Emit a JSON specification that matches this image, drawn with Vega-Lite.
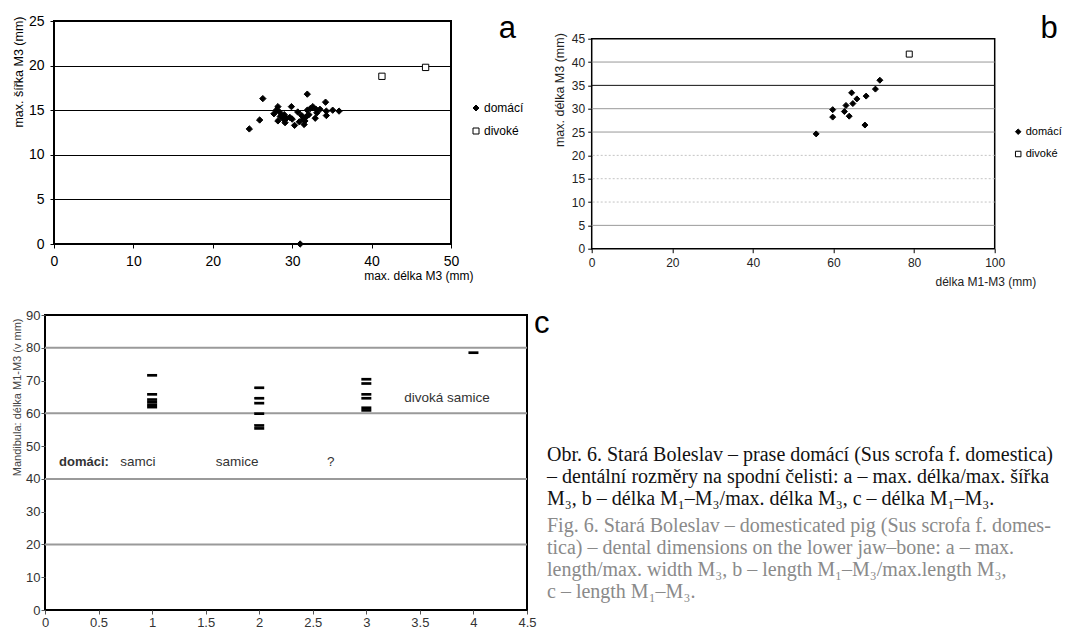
{
  "$schema": "https://vega.github.io/schema/vega-lite/v6.json",
  "padding": {"left": 9, "top": 11, "right": 0, "bottom": 0},
  "background": "white",
  "bounds": "flush",
  "spacing": 294,
  "resolve": {"scale": {"shape": "independent", "fill": "independent", "stroke": "independent"}},
  "config": {
    "view": {"stroke": null},
    "font": "Liberation Sans",
    "axis": {
      "labelFont": "Liberation Sans",
      "titleFont": "Liberation Sans",
      "labelColor": "#000",
      "titleColor": "#000",
      "titleFontWeight": "normal",
      "tickColor": "#000",
      "domain": false,
      "labelFlush": false,
      "labelOverlap": false,
      "tickSize": 4,
      "grid": false
    },
    "legend": {"labelFont": "Liberation Sans", "titleFont": "Liberation Sans"}
  },
  "datasets": {
    "empty": [],
    "a": [
      {"delka": 24.6, "sirka": 12.9, "typ": "domácí"},
      {"delka": 25.9, "sirka": 13.9, "typ": "domácí"},
      {"delka": 26.3, "sirka": 16.3, "typ": "domácí"},
      {"delka": 27.7, "sirka": 14.6, "typ": "domácí"},
      {"delka": 28.0, "sirka": 15.0, "typ": "domácí"},
      {"delka": 28.2, "sirka": 15.4, "typ": "domácí"},
      {"delka": 28.2, "sirka": 13.8, "typ": "domácí"},
      {"delka": 28.4, "sirka": 14.8, "typ": "domácí"},
      {"delka": 28.5, "sirka": 14.3, "typ": "domácí"},
      {"delka": 28.7, "sirka": 14.4, "typ": "domácí"},
      {"delka": 28.9, "sirka": 14.0, "typ": "domácí"},
      {"delka": 29.0, "sirka": 14.5, "typ": "domácí"},
      {"delka": 29.1, "sirka": 13.6, "typ": "domácí"},
      {"delka": 29.3, "sirka": 14.1, "typ": "domácí"},
      {"delka": 29.7, "sirka": 14.2, "typ": "domácí"},
      {"delka": 29.9, "sirka": 15.4, "typ": "domácí"},
      {"delka": 30.0, "sirka": 14.0, "typ": "domácí"},
      {"delka": 30.3, "sirka": 13.3, "typ": "domácí"},
      {"delka": 30.7, "sirka": 14.8, "typ": "domácí"},
      {"delka": 30.9, "sirka": 13.7, "typ": "domácí"},
      {"delka": 31.2, "sirka": 14.4, "typ": "domácí"},
      {"delka": 31.4, "sirka": 14.0, "typ": "domácí"},
      {"delka": 31.5, "sirka": 13.4, "typ": "domácí"},
      {"delka": 31.6, "sirka": 13.8, "typ": "domácí"},
      {"delka": 31.8, "sirka": 14.3, "typ": "domácí"},
      {"delka": 31.9, "sirka": 16.8, "typ": "domácí"},
      {"delka": 31.9, "sirka": 15.0, "typ": "domácí"},
      {"delka": 32.1, "sirka": 14.5, "typ": "domácí"},
      {"delka": 32.3, "sirka": 15.2, "typ": "domácí"},
      {"delka": 32.6, "sirka": 15.4, "typ": "domácí"},
      {"delka": 32.9, "sirka": 14.1, "typ": "domácí"},
      {"delka": 33.0, "sirka": 15.1, "typ": "domácí"},
      {"delka": 33.1, "sirka": 14.7, "typ": "domácí"},
      {"delka": 33.5, "sirka": 15.1, "typ": "domácí"},
      {"delka": 34.2, "sirka": 15.9, "typ": "domácí"},
      {"delka": 34.3, "sirka": 14.9, "typ": "domácí"},
      {"delka": 34.3, "sirka": 14.4, "typ": "domácí"},
      {"delka": 35.1, "sirka": 15.0, "typ": "domácí"},
      {"delka": 35.9, "sirka": 14.9, "typ": "domácí"},
      {"delka": 31.0, "sirka": 0.0, "typ": "domácí"},
      {"delka": 41.3, "sirka": 18.8, "typ": "divoké"},
      {"delka": 46.8, "sirka": 19.8, "typ": "divoké"}
    ],
    "a_tag": [{"x": 57.1, "y": 23.1, "label": "a"}],
    "b": [
      {"m1m3": 71.5, "m3": 36.1, "typ": "domácí"},
      {"m1m3": 70.4, "m3": 34.2, "typ": "domácí"},
      {"m1m3": 68.1, "m3": 32.7, "typ": "domácí"},
      {"m1m3": 65.8, "m3": 32.1, "typ": "domácí"},
      {"m1m3": 64.5, "m3": 33.4, "typ": "domácí"},
      {"m1m3": 64.8, "m3": 31.1, "typ": "domácí"},
      {"m1m3": 63.1, "m3": 30.7, "typ": "domácí"},
      {"m1m3": 62.7, "m3": 29.4, "typ": "domácí"},
      {"m1m3": 63.9, "m3": 28.4, "typ": "domácí"},
      {"m1m3": 59.8, "m3": 28.2, "typ": "domácí"},
      {"m1m3": 59.8, "m3": 29.8, "typ": "domácí"},
      {"m1m3": 67.8, "m3": 26.5, "typ": "domácí"},
      {"m1m3": 55.7, "m3": 24.6, "typ": "domácí"},
      {"m1m3": 78.8, "m3": 41.7, "typ": "divoké"}
    ],
    "b_tag": [{"x": 113.5, "y": 45.1, "label": "b"}],
    "b_grid": [{"v": 5}, {"v": 25}, {"v": 30}, {"v": 40}],
    "b_grid_light": [{"v": 10}, {"v": 15}, {"v": 20}],
    "b_grid_dark": [{"v": 35}],
    "c": [
      {"skupina": 1, "delka": 71.6},
      {"skupina": 1, "delka": 65.8},
      {"skupina": 1, "delka": 64.2},
      {"skupina": 1, "delka": 63.4},
      {"skupina": 1, "delka": 62.6},
      {"skupina": 1, "delka": 61.9},
      {"skupina": 2, "delka": 67.8},
      {"skupina": 2, "delka": 64.6},
      {"skupina": 2, "delka": 63.1},
      {"skupina": 2, "delka": 59.9},
      {"skupina": 2, "delka": 56.3},
      {"skupina": 2, "delka": 55.4},
      {"skupina": 3, "delka": 70.4},
      {"skupina": 3, "delka": 69.1},
      {"skupina": 3, "delka": 65.8},
      {"skupina": 3, "delka": 64.6},
      {"skupina": 3, "delka": 61.7},
      {"skupina": 3, "delka": 60.9},
      {"skupina": 4, "delka": 78.5}
    ],
    "c_grid": [{"v": 20}, {"v": 40}, {"v": 60}, {"v": 80}],
    "c_head": [{"x": 0.364, "y": 45.2, "label": "domáci:"}],
    "c_text": [
      {"x": 0.868, "y": 45.2, "label": "samci"},
      {"x": 1.793, "y": 45.2, "label": "samice"},
      {"x": 2.667, "y": 45.2, "label": "?"},
      {"x": 3.753, "y": 64.6, "label": "divoká samice"}
    ],
    "c_tag": [{"x": 4.638, "y": 84.5, "label": "c"}],
    "caption": [
      {"line": 1, "lang": "cz", "text": "Obr. 6. Stará Boleslav – prase domácí (Sus scrofa f. domestica)"},
      {"line": 2, "lang": "cz", "text": "– dentální rozměry na spodní čelisti: a – max. délka/max. šířka"},
      {"line": 3, "lang": "cz", "text": "M₃, b – délka M₁–M₃/max. délka M₃, c – délka M₁–M₃."},
      {"line": 4, "lang": "en", "text": "Fig. 6. Stará Boleslav – domesticated pig (Sus scrofa f. domes-"},
      {"line": 5, "lang": "en", "text": "tica) – dental dimensions on the lower jaw–bone: a – max."},
      {"line": 6, "lang": "en", "text": "length/max. width M₃, b – length M₁–M₃/max.length M₃,"},
      {"line": 7, "lang": "en", "text": "c – length M₁–M₃."}
    ]
  },
  "vconcat": [
    {
      "bounds": "flush",
      "spacing": 8,
      "resolve": {"scale": {"shape": "independent", "fill": "independent", "stroke": "independent"}},
      "hconcat": [
        {"width": 1, "height": 1, "data": {"name": "empty"}, "mark": "point"},
        {
          "bounds": "flush",
          "spacing": 140.7,
          "resolve": {"scale": {"shape": "independent", "fill": "independent", "stroke": "independent"}},
          "hconcat": [
            {
              "width": 397,
              "height": 223,
              "view": {"stroke": "black", "strokeWidth": 2},
              "layer": [
                {
                  "data": {"name": "a"},
                  "mark": {"type": "point", "filled": true, "strokeWidth": 1, "size": 40, "opacity": 1},
                  "encoding": {
                    "x": {
                      "field": "delka", "type": "quantitative",
                      "scale": {"domain": [0, 50], "nice": false, "zero": false},
                      "axis": {
                        "values": [0, 10, 20, 30, 40, 50],
                        "tickCount": 20,
                        "labelOverlap": false,
                        "title": "max. délka M3 (mm)",
                        "labelFont": "Liberation Sans Narrow, Liberation Sans",
                        "labelFontSize": 14, "labelPadding": 6,
                        "titleFontSize": 12, "titleAnchor": "end", "titleAlign": "right",
                        "titleX": 419, "titleY": 31, "titleBaseline": "middle"
                      }
                    },
                    "y": {
                      "field": "sirka", "type": "quantitative",
                      "scale": {"domain": [0, 25], "nice": false},
                      "axis": {
                        "values": [0, 5, 10, 15, 20, 25],
                        "tickCount": 20,
                        "labelOverlap": false,
                        "title": "max. šířka M3 (mm)",
                        "grid": true, "gridColor": "black", "gridWidth": 1,
                        "labelFont": "Liberation Sans Narrow, Liberation Sans",
                        "labelFontSize": 14, "labelPadding": 6,
                        "titleFontSize": 12.5, "titleAnchor": "end", "titleAlign": "right",
                        "titleAngle": -90, "titleX": -36, "titleY": -5, "titleBaseline": "middle"
                      }
                    },
                    "shape": {
                      "field": "typ", "type": "nominal",
                      "scale": {"domain": ["domácí", "divoké"], "range": ["diamond", "square"]},
                      "legend": {"orient": "none", "legendX": 416, "legendY": 81, "title": null, "labelFontSize": 12, "symbolSize": 36, "rowPadding": 11, "labelOffset": 2, "padding": 0, "symbolStrokeWidth": 1}
                    },
                    "fill": {
                      "field": "typ", "type": "nominal",
                      "scale": {"domain": ["domácí", "divoké"], "range": ["black", "white"]},
                      "legend": {"orient": "none", "legendX": 416, "legendY": 81, "title": null, "labelFontSize": 12, "symbolSize": 36, "rowPadding": 11, "labelOffset": 2, "padding": 0, "symbolStrokeWidth": 1}
                    },
                    "stroke": {
                      "field": "typ", "type": "nominal",
                      "scale": {"domain": ["domácí", "divoké"], "range": ["black", "black"]},
                      "legend": {"orient": "none", "legendX": 416, "legendY": 81, "title": null, "labelFontSize": 12, "symbolSize": 36, "rowPadding": 11, "labelOffset": 2, "padding": 0, "symbolStrokeWidth": 1}
                    }
                  }
                },
                {
                  "data": {"name": "a_tag"},
                  "mark": {"type": "text", "fontSize": 31, "font": "Liberation Sans", "align": "center", "baseline": "alphabetic", "clip": false, "color": "black"},
                  "encoding": {
                    "x": {"field": "x", "type": "quantitative", "scale": {"domain": [0, 50], "nice": false, "zero": false}},
                    "y": {"field": "y", "type": "quantitative", "scale": {"domain": [0, 25], "nice": false}},
                    "text": {"field": "label"}
                  }
                }
              ]
            },
            {
              "bounds": "flush",
              "spacing": 16.7,
              "resolve": {"scale": {"shape": "independent", "fill": "independent", "stroke": "independent"}},
              "vconcat": [
                {"width": 1, "height": 1, "data": {"name": "empty"}, "mark": "point"},
                {
                  "width": 403,
                  "height": 210,
                  "view": {"stroke": "black", "strokeWidth": 1.5},
                  "layer": [
                    {
                      "data": {"name": "b_grid"},
                      "mark": {"type": "rule", "color": "#999999", "strokeWidth": 1},
                      "encoding": {
                        "y": {
                          "field": "v", "type": "quantitative",
                          "scale": {"domain": [0, 45], "nice": false},
                          "axis": {
                            "values": [0, 5, 10, 15, 20, 25, 30, 35, 40, 45],
                            "tickCount": 20,
                            "labelOverlap": false,
                            "title": "max. délka M3 (mm)",
                            "labelFontSize": 12, "labelPadding": 3, "labelColor": "#222",
                            "titleFontSize": 12.5, "titleAnchor": "end", "titleAlign": "right",
                            "titleAngle": -90, "titleX": -32, "titleY": -6, "titleBaseline": "middle", "titleColor": "#222"
                          }
                        }
                      }
                    },
                    {
                      "data": {"name": "b_grid_light"},
                      "mark": {"type": "rule", "color": "#c4c4c4", "strokeWidth": 1, "strokeDash": [2, 2]},
                      "encoding": {"y": {"field": "v", "type": "quantitative", "scale": {"domain": [0, 45], "nice": false}}}
                    },
                    {
                      "data": {"name": "b_grid_dark"},
                      "mark": {"type": "rule", "color": "#111111", "strokeWidth": 1},
                      "encoding": {"y": {"field": "v", "type": "quantitative", "scale": {"domain": [0, 45], "nice": false}}}
                    },
                    {
                      "data": {"name": "b"},
                      "mark": {"type": "point", "filled": true, "strokeWidth": 1, "size": 36, "opacity": 1},
                      "encoding": {
                        "x": {
                          "field": "m1m3", "type": "quantitative",
                          "scale": {"domain": [0, 100], "nice": false, "zero": false},
                          "axis": {
                            "values": [0, 20, 40, 60, 80, 100],
                            "tickCount": 20,
                            "labelOverlap": false,
                            "title": "délka M1-M3 (mm)",
                            "labelFontSize": 12, "labelPadding": 5, "labelColor": "#222",
                            "titleFontSize": 12, "titleAnchor": "end", "titleAlign": "right",
                            "titleX": 444, "titleY": 33, "titleBaseline": "middle", "titleColor": "#222"
                          }
                        },
                        "y": {
                          "field": "m3", "type": "quantitative",
                          "scale": {"domain": [0, 45], "nice": false},
                          "axis": {
                            "values": [0, 5, 10, 15, 20, 25, 30, 35, 40, 45],
                            "tickCount": 20,
                            "labelOverlap": false,
                            "title": "max. délka M3 (mm)",
                            "labelFontSize": 12, "labelPadding": 3, "labelColor": "#222",
                            "titleFontSize": 12.5, "titleAnchor": "end", "titleAlign": "right",
                            "titleAngle": -90, "titleX": -32, "titleY": -6, "titleBaseline": "middle", "titleColor": "#222"
                          }
                        },
                        "shape": {
                          "field": "typ", "type": "nominal",
                          "scale": {"domain": ["domácí", "divoké"], "range": ["diamond", "square"]},
                          "legend": {"orient": "none", "legendX": 421, "legendY": 87.5, "title": null, "labelFontSize": 11, "symbolSize": 30, "rowPadding": 10.3, "labelOffset": 2, "padding": 0, "symbolStrokeWidth": 1}
                        },
                        "fill": {
                          "field": "typ", "type": "nominal",
                          "scale": {"domain": ["domácí", "divoké"], "range": ["black", "white"]},
                          "legend": {"orient": "none", "legendX": 421, "legendY": 87.5, "title": null, "labelFontSize": 11, "symbolSize": 30, "rowPadding": 10.3, "labelOffset": 2, "padding": 0, "symbolStrokeWidth": 1}
                        },
                        "stroke": {
                          "field": "typ", "type": "nominal",
                          "scale": {"domain": ["domácí", "divoké"], "range": ["black", "black"]},
                          "legend": {"orient": "none", "legendX": 421, "legendY": 87.5, "title": null, "labelFontSize": 11, "symbolSize": 30, "rowPadding": 10.3, "labelOffset": 2, "padding": 0, "symbolStrokeWidth": 1}
                        }
                      }
                    },
                    {
                      "data": {"name": "b_tag"},
                      "mark": {"type": "text", "fontSize": 31, "font": "Liberation Sans", "align": "center", "baseline": "alphabetic", "clip": false, "color": "black"},
                      "encoding": {
                        "x": {"field": "x", "type": "quantitative", "scale": {"domain": [0, 100], "nice": false, "zero": false}},
                        "y": {"field": "y", "type": "quantitative", "scale": {"domain": [0, 45], "nice": false}},
                        "text": {"field": "label"}
                      }
                    }
                  ]
                }
              ]
            }
          ]
        }
      ]
    },
    {
      "bounds": "flush",
      "spacing": 20,
      "hconcat": [
        {
          "width": 482,
          "height": 295,
          "view": {"stroke": "black", "strokeWidth": 2},
          "layer": [
            {
              "data": {"name": "c_grid"},
              "mark": {"type": "rule", "color": "#9a9a9a", "strokeWidth": 2},
              "encoding": {
                "y": {
                  "field": "v", "type": "quantitative",
                  "scale": {"domain": [0, 90], "nice": false},
                  "axis": {
                    "values": [0, 10, 20, 30, 40, 50, 60, 70, 80, 90],
                    "tickCount": 20,
                    "labelOverlap": false,
                    "title": "Mandibula: délka M1-M3 (v mm)",
                    "labelFontSize": 13, "labelPadding": 1, "labelColor": "#333", "tickColor": "#555",
                    "titleFontSize": 11, "titleColor": "#444", "titleAnchor": "end", "titleAlign": "right",
                    "titleAngle": -90, "titleX": -28, "titleY": 3, "titleBaseline": "middle"
                  }
                }
              }
            },
            {
              "data": {"name": "c"},
              "mark": {"type": "tick", "orient": "horizontal", "size": 10, "thickness": 2.7, "color": "black", "opacity": 1},
              "encoding": {
                "x": {
                  "field": "skupina", "type": "quantitative",
                  "scale": {"domain": [0, 4.5], "nice": false, "zero": false},
                  "axis": {
                    "values": [0, 0.5, 1, 1.5, 2, 2.5, 3, 3.5, 4, 4.5],
                    "tickCount": 20,
                    "labelOverlap": false,
                    "format": "~g", "title": null,
                    "labelFontSize": 13, "labelPadding": 2, "labelColor": "#333", "tickColor": "#555"
                  }
                },
                "y": {
                  "field": "delka", "type": "quantitative",
                  "scale": {"domain": [0, 90], "nice": false},
                  "axis": {
                    "values": [0, 10, 20, 30, 40, 50, 60, 70, 80, 90],
                    "tickCount": 20,
                    "labelOverlap": false,
                    "title": "Mandibula: délka M1-M3 (v mm)",
                    "labelFontSize": 13, "labelPadding": 1, "labelColor": "#333", "tickColor": "#555",
                    "titleFontSize": 11, "titleColor": "#444", "titleAnchor": "end", "titleAlign": "right",
                    "titleAngle": -90, "titleX": -28, "titleY": 3, "titleBaseline": "middle"
                  }
                }
              }
            },
            {
              "data": {"name": "c_head"},
              "mark": {"type": "text", "fontSize": 13, "fontWeight": "bold", "font": "Liberation Sans", "align": "center", "baseline": "middle", "color": "#333", "clip": false},
              "encoding": {
                "x": {"field": "x", "type": "quantitative", "scale": {"domain": [0, 4.5], "nice": false, "zero": false}},
                "y": {"field": "y", "type": "quantitative", "scale": {"domain": [0, 90], "nice": false}},
                "text": {"field": "label"}
              }
            },
            {
              "data": {"name": "c_text"},
              "mark": {"type": "text", "fontSize": 13.5, "font": "Liberation Sans", "align": "center", "baseline": "middle", "color": "#333", "clip": false},
              "encoding": {
                "x": {"field": "x", "type": "quantitative", "scale": {"domain": [0, 4.5], "nice": false, "zero": false}},
                "y": {"field": "y", "type": "quantitative", "scale": {"domain": [0, 90], "nice": false}},
                "text": {"field": "label"}
              }
            },
            {
              "data": {"name": "c_tag"},
              "mark": {"type": "text", "fontSize": 31, "font": "Liberation Sans", "align": "center", "baseline": "alphabetic", "color": "black", "clip": false},
              "encoding": {
                "x": {"field": "x", "type": "quantitative", "scale": {"domain": [0, 4.5], "nice": false, "zero": false}},
                "y": {"field": "y", "type": "quantitative", "scale": {"domain": [0, 90], "nice": false}},
                "text": {"field": "label"}
              }
            }
          ]
        },
        {
          "width": 498,
          "height": 317,
          "data": {"name": "caption"},
          "layer": [
            {
              "transform": [{"filter": "datum.lang === 'cz'"}],
              "mark": {"type": "text", "font": "Liberation Serif", "fontSize": 20, "align": "left", "baseline": "middle", "color": "#111"},
              "encoding": {
                "x": {"datum": 0, "type": "quantitative", "scale": {"domain": [0, 1]}, "axis": null},
                "y": {"field": "line", "type": "quantitative", "scale": {"domain": [-5.364, 9.045], "reverse": true}, "axis": null},
                "text": {"field": "text"}
              }
            },
            {
              "transform": [{"filter": "datum.lang === 'en'"}],
              "mark": {"type": "text", "font": "Liberation Serif", "fontSize": 20, "align": "left", "baseline": "middle", "color": "#8a8a8a", "dy": 5},
              "encoding": {
                "x": {"datum": 0, "type": "quantitative", "scale": {"domain": [0, 1]}, "axis": null},
                "y": {"field": "line", "type": "quantitative", "scale": {"domain": [-5.364, 9.045], "reverse": true}, "axis": null},
                "text": {"field": "text"}
              }
            }
          ]
        }
      ]
    }
  ]
}
